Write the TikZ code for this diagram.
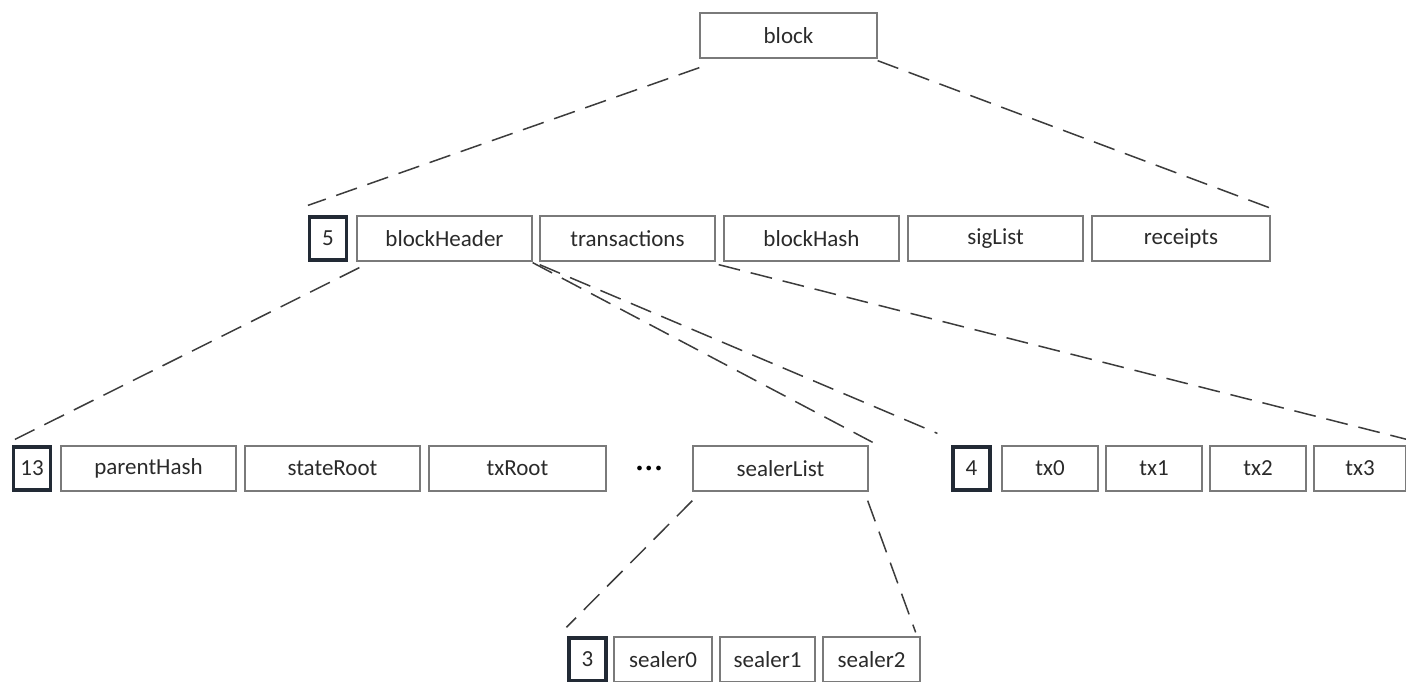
\documentclass[tikz,border=0pt]{standalone}
\usepackage{fontspec}
\setmainfont{Carlito}
\definecolor{boxgray}{HTML}{7A7A7A}
\definecolor{navy}{HTML}{222A35}
\definecolor{textgray}{HTML}{2A2A2A}
\definecolor{linegray}{HTML}{3C3C3C}
\begin{document}
\begin{tikzpicture}[x=1pt, y=-1pt,
    field/.style={draw=boxgray, line width=1.3pt, minimum height=45pt, inner sep=0pt,
      font=\fontsize{23}{27}\selectfont, text=textgray},
    count/.style={field, draw=navy, line width=3.2pt, minimum width=37pt, minimum height=43pt},
    link/.style={draw=linegray, line width=1.5pt, dash pattern=on 22pt off 11pt}]
    \useasboundingbox (0,0) rectangle (1406,682);
    % block
    \node[field, minimum width=177pt] (block) at (788.5,35.5) {block};
    % block fields
    \node[count] (five) at (328,238.5) {5};
    \node[field, minimum width=175pt] (header) at (444.5,238.5) {blockHeader};
    \node[field, minimum width=175pt] (trans) at (627.5,238.5) {transactions};
    \node[field, minimum width=175pt] (hash) at (811.5,238.5) {blockHash};
    \node[field, minimum width=175pt] (sig) at (995.5,238.5) {sigList};
    \node[field, minimum width=178pt] (receipts) at (1181,238.5) {receipts};
    % header fields
    \node[count] (thirteen) at (32,468.5) {13};
    \node[field, minimum width=175pt] (parent) at (148.5,468.5) {parentHash};
    \node[field, minimum width=175pt] (state) at (332.5,468.5) {stateRoot};
    \node[field, minimum width=177pt] (txroot) at (517.5,468.5) {txRoot};
    \node[font=\fontsize{12}{14}\selectfont, text=black, inner sep=0pt] (dots) at (649,469)
      {$\bullet$\hspace{3.5pt}$\bullet$\hspace{3.5pt}$\bullet$};
    \node[field, minimum width=175pt] (sealerlist) at (780.5,468.5) {sealerList};
    % transactions
    \node[count] (four) at (971.5,468.5) {4};
    \node[field, minimum width=96pt] (tx0) at (1050,468.5) {tx0};
    \node[field, minimum width=96pt] (tx1) at (1154,468.5) {tx1};
    \node[field, minimum width=96pt] (tx2) at (1258,468.5) {tx2};
    \node[field, minimum width=92pt] (tx3) at (1360,468.5) {tx3};
    % sealers
    \node[count] (three) at (587.5,659.5) {3};
    \node[field, minimum width=98pt] (sealer0) at (663,659.5) {sealer0};
    \node[field, minimum width=95pt] (sealer1) at (767.5,659.5) {sealer1};
    \node[field, minimum width=97pt] (sealer2) at (871.5,659.5) {sealer2};
    % dashed links
    \draw[link] ([yshift=-9pt]block.south west) -- ([yshift=10pt]five.north west);
    \draw[link] ([yshift=-2pt]block.south east) -- ([shift={(3pt,6pt)}]receipts.north east);
    \draw[link] ([shift={(3pt,-6pt)}]header.south west) -- ([shift={(3pt,6pt)}]thirteen.north west);
    \draw[link] ([yshift=-1pt]header.south east) -- ([shift={(4pt,3pt)}]sealerlist.north east);
    \draw[link] ([shift={(7pt,-3pt)}]header.south east) -- ([shift={(-14pt,12pt)}]four.north west);
    \draw[link] ([shift={(3pt,-3pt)}]trans.south east) -- ([yshift=6pt]tx3.north east);
    \draw[link] ([yshift=-9pt]sealerlist.south west) -- ([shift={(-1pt,9pt)}]three.north west);
    \draw[link] ([shift={(-1pt,-9pt)}]sealerlist.south east) -- ([shift={(-5pt,4pt)}]sealer2.north east);
\end{tikzpicture}
\end{document}
